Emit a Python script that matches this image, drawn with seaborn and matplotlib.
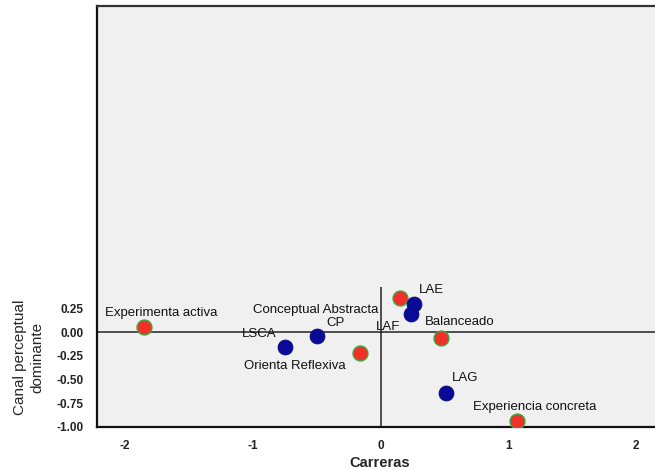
import matplotlib
matplotlib.use("Agg")
import matplotlib.pyplot as plt
import seaborn as sns
import pandas as pd

# Row points (Carreras) - blue
carreras = ["LSCA", "CP", "LAE", "LAF", "LAG"]
carreras_x = [-0.75, -0.50, 0.26, 0.24, 0.51]
carreras_y = [-0.15, -0.04, 0.30, 0.20, -0.64]

# Column points (Canal perceptual / estilo) - red
estilos = ["Experimenta activa", "Orienta Reflexiva", "Conceptual Abstracta",
           "Balanceado", "Experiencia concreta"]
estilos_x = [-1.85, -0.16, 0.15, 0.47, 1.07]
estilos_y = [0.06, -0.22, 0.37, -0.06, -0.94]

x_ticks = [-2, -1, 0, 1, 2]
y_ticks = [-1.00, -0.75, -0.50, -0.25, 0.00, 0.25]

# label offsets in pixels (styling only)
off_carreras = [(-26, 13), (19, 13), (18, 14), (-23, -13), (19, 15)]
off_estilos = [(17, 14), (-65, -13), (-84, -12), (19, 16), (17, 14)]

df_c = pd.DataFrame({"x": carreras_x, "y": carreras_y, "label": carreras})
df_e = pd.DataFrame({"x": estilos_x, "y": estilos_y, "label": estilos})

sns.set_style("white")
plt.rcParams["font.family"] = ["Liberation Sans", "DejaVu Sans"]

fig = plt.figure(figsize=(6.55, 4.70), dpi=100)
ax = fig.add_axes([97/655, 43/470, 1 - 97/655 + 0.01, (427-6)/470])
ax.set_facecolor("#f0f0f0")

ax.set_xlim(-2.22, 2.2)
ax.set_ylim(-1.005, 3.47)

ax.axhline(0, color="#222222", lw=1.1, zorder=1)
ax.vlines(0, -1.005, 0.48, color="#222222", lw=1.1, zorder=1)

sns.scatterplot(data=df_e, x="x", y="y", ax=ax, color="#f2302a",
                edgecolor="#3aa840", linewidth=1.0, s=115, legend=False, zorder=3)
sns.scatterplot(data=df_c, x="x", y="y", ax=ax, color="#0a0a9a",
                edgecolor="#0a0a70", linewidth=0.6, s=115, legend=False, zorder=3)

for df, offs in ((df_c, off_carreras), (df_e, off_estilos)):
    for (_, r), (dx, dy) in zip(df.iterrows(), offs):
        ax.annotate(r["label"], (r["x"], r["y"]), xytext=(dx, dy),
                    textcoords="offset pixels", ha="center", va="center",
                    fontsize=9.5, color="#111111", zorder=4)

ax.set_xticks(x_ticks)
ax.set_xticklabels([str(t) for t in x_ticks])
ax.set_yticks(y_ticks)
ax.set_yticklabels([f"{t:.2f}" for t in y_ticks])
ax.tick_params(axis="both", which="major", direction="out", length=6,
               width=1, color="#222222", labelsize=8.5, labelcolor="#222222")
for lab in ax.get_xticklabels() + ax.get_yticklabels():
    lab.set_fontweight("bold")

for side in ("left", "bottom"):
    ax.spines[side].set_color("#111111")
    ax.spines[side].set_linewidth(1.6)
ax.spines["top"].set_color("#333333")
ax.spines["top"].set_linewidth(1.6)
ax.spines["right"].set_visible(False)

ax.set_xlabel("Carreras", fontsize=10.5, fontweight="bold", labelpad=3)
ax.set_ylabel("Canal perceptual\ndominante", fontsize=11, linespacing=1.3)
ax.yaxis.set_label_coords(-0.093, 0.166)

fig.savefig("out.png", dpi=100)
